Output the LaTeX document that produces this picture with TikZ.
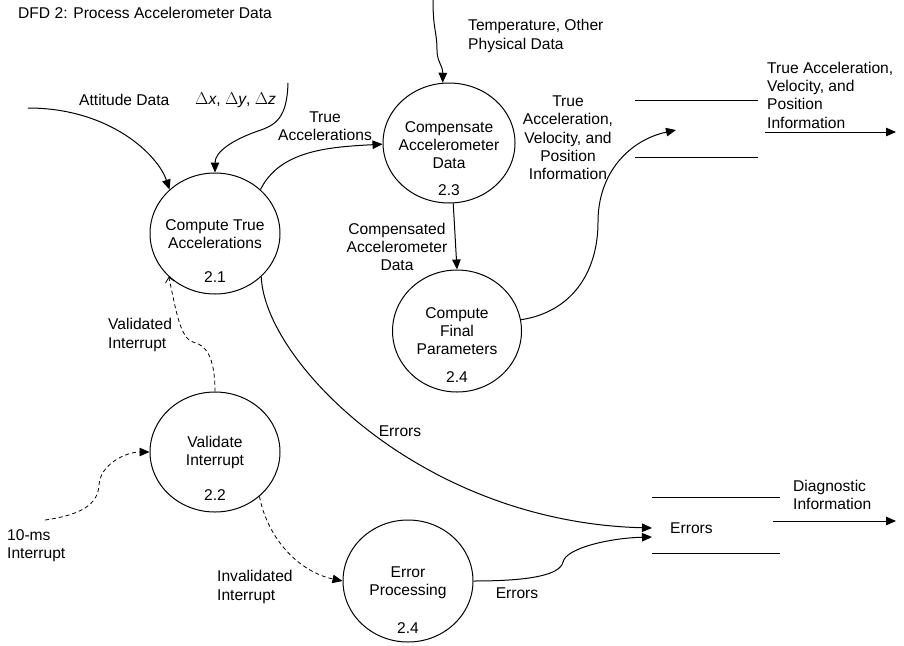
\documentclass[tikz,border=0pt]{standalone}
\usepackage{fontspec}
\setmainfont{Liberation Sans}
\usetikzlibrary{shapes.geometric,arrows.meta}
\newcommand{\bigdelta}{{\fontsize{19}{19}\selectfont$\Delta$}}
\begin{document}
\begin{tikzpicture}[x=1pt,y=-1pt,
  every node/.style={font=\fontsize{15.6}{18.3}\selectfont, inner sep=0pt},
  proc/.style={ellipse, draw, line width=1pt, minimum width=130pt, minimum height=121pt, inner sep=0pt},
  lbl/.style={align=center},
  lbll/.style={align=left, anchor=west},
  flow/.style={line width=1pt, -{Triangle[length=10pt,width=8.5pt]}},
  dflow/.style={line width=0.8pt, dash pattern=on 4pt off 3pt, -{Triangle[length=10pt,width=8.5pt]}},
  oflow/.style={line width=0.8pt, dash pattern=on 4pt off 3pt, -{Straight Barb[length=5pt,width=9pt]}},
  store/.style={line width=1pt}]
\useasboundingbox (0,0) rectangle (904,645);

% processes
\node[proc] (p21) at (215,233.5) {};
\node[lbl] (t21) at (215,234) {Compute True\\Accelerations};
\node (n21) at (215,277) {2.1};

\node[proc, minimum width=132pt, minimum height=120pt] (p23) at (449,143) {};
\node[lbl] (t23) at (449,145) {Compensate\\Accelerometer\\Data};
\node (n23) at (449,190) {2.3};

\node[proc, minimum width=129pt, minimum height=122pt] (p24) at (457,331) {};
\node[lbl] (t24) at (457,331) {Compute\\Final\\Parameters};
\node (n24) at (457,377) {2.4};

\node[proc, minimum height=120pt] (p22) at (215,452) {};
\node[lbl] (t22) at (215,452.5) {Validate\\Interrupt};
\node (n22) at (215,495) {2.2};

\node[proc, minimum height=122pt] (pe) at (408,581) {};
\node[lbl] (te) at (408,582.5) {Error\\Processing};
\node (ne) at (408,628) {2.4};

% data stores
\coordinate (ts1a) at (635,100); \coordinate (ts1b) at (758,100);
\coordinate (ts2a) at (635,157); \coordinate (ts2b) at (758,157);
\draw[store] (ts1a) -- (ts1b);
\draw[store] (ts2a) -- (ts2b);
\coordinate (tsin) at (676,130);

\coordinate (es1a) at (652,497); \coordinate (es1b) at (780,497);
\coordinate (es2a) at (652,553); \coordinate (es2b) at (780,553);
\draw[store] (es1a) -- (es1b);
\draw[store] (es2a) -- (es2b);
\node[anchor=west] (esl) at (670,528) {Errors};
\coordinate (esin1) at (652,528);
\coordinate (esin2) at (652,537);

% free ends
\coordinate (att) at (28,108);
\coordinate (dxyz) at (288,83);
\coordinate (tin) at (433,0);
\coordinate (tms) at (45,520);
\coordinate (out1a) at (765,132); \coordinate (out1b) at (896,132);
\coordinate (out2a) at (773,521); \coordinate (out2b) at (896,521);

% flows
\draw[flow] (att) .. controls (110,108) and (158,155) .. (p21.136);
\draw[flow] (dxyz) .. controls (287,118) and (276,125) .. (258,131)
   .. controls (232,140) and (215,152) .. (p21.90);
\draw[flow] (tin) .. controls (433,30) and (437,32) .. (437,50)
   .. controls (437,62) and (443,66) .. (p23.96);
\draw[flow] (p21.44) .. controls (280,150) and (330,147) .. (p23.181);
\draw[flow] (p23.274) -- (p24.90);
\draw[flow] (p24.10) .. controls (572,312) and (598,272) .. (598,222)
   .. controls (598,172) and (630,140) .. (tsin);
\draw[flow] (p21.317) .. controls (264,360) and (420,522) .. (esin1);
\draw[flow] (pe.0) .. controls (530,581) and (560,575) .. (563,562)
   .. controls (566,548) and (610,538) .. (esin2);
\draw[dflow] (tms) .. controls (80,515) and (98,505) .. (99,485)
   .. controls (100,465) and (125,452) .. (p22.180);
\draw[oflow] (p22.90) .. controls (215,355) and (205,345) .. (193,342)
   .. controls (180,338) and (176,310) .. (p21.223);
\draw[dflow] (p22.315) .. controls (268,540) and (300,572) .. (pe.180);
\draw[flow] (out1a) -- (out1b);
\draw[flow] (out2a) -- (out2b);

% labels
\node[anchor=west] (title) at (18,13) {DFD 2: Process Accelerometer Data};
\node[anchor=west] (latt) at (79,100) {Attitude Data};
\node[anchor=west] (ldxyz) at (195,100) {\bigdelta\textit{x}, \bigdelta\textit{y}, \bigdelta\textit{z}};
\node[lbll] (ltemp) at (468,36) {Temperature, Other\\Physical Data};
\node[lbl] (ltacc) at (325,126) {True\\Accelerations};
\node[lbl] (lcomp) at (397,247) {Compensated\\Accelerometer\\Data};
\node[lbl] (ltavp) at (568,138) {True\\Acceleration,\\Velocity, and\\Position\\Information};
\node[lbll] (lout1) at (767,95) {True Acceleration,\\Velocity, and\\Position\\Information};
\node[lbll] (ldiag) at (793,495) {Diagnostic\\Information};
\node[lbl] (lerr1) at (400,431) {Errors};
\node[lbl] (lerr2) at (517,593) {Errors};
\node[lbll] (ltms) at (7,546) {10-ms\\Interrupt};
\node[lbll] (lval) at (108,335) {Validated\\Interrupt};
\node[lbll] (linv) at (217,587) {Invalidated\\Interrupt};
\end{tikzpicture}
\end{document}
